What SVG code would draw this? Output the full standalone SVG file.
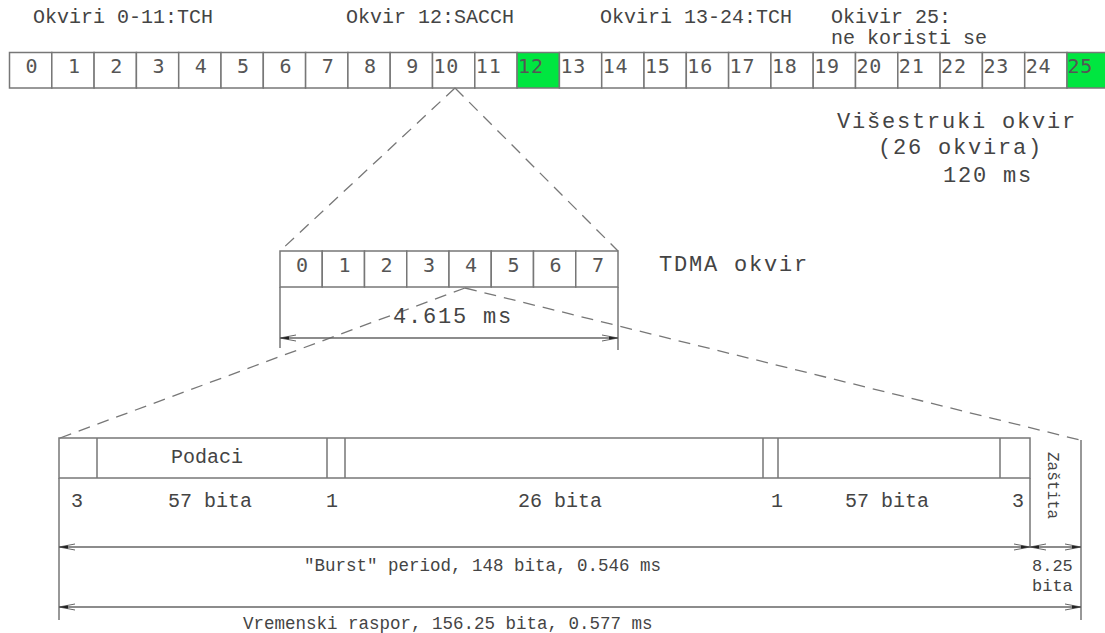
<svg xmlns="http://www.w3.org/2000/svg" width="1105" height="633" viewBox="0 0 1105 633">
<defs>
<style>
.cell{fill:#fff;stroke:#777;stroke-width:1.5}
.green{fill:#00e640}
.dig{font-family:"DejaVu Sans Mono",monospace;font-size:20px;fill:#555}
.two{letter-spacing:0.8px}
.mid{text-anchor:middle}
.lbl{font-family:"Liberation Mono","DejaVu Sans Mono",monospace;fill:#444}
.big{font-size:22px;letter-spacing:1.8px}
.ln{stroke:#777;stroke-width:1.5;fill:none}
.dash{stroke:#777;stroke-width:1.3;stroke-dasharray:12 8;fill:none}
.arr{stroke:#666;stroke-width:1.5;fill:none;marker-start:url(#ah);marker-end:url(#ah)}
</style>
<marker id="ah" viewBox="0 0 16 8" refX="16" refY="4" markerWidth="16" markerHeight="8" markerUnits="userSpaceOnUse" orient="auto-start-reverse">
<path d="M0,1 L16,4 L0,7" fill="none" stroke="#666" stroke-width="1"/>
<path d="M7,2.6 L16,4 L7,5.4 Z" fill="#222"/>
</marker>
</defs>
<rect width="1105" height="633" fill="#fff"/>

<g id="labels-top" class="lbl" font-size="20">
<text x="33" y="23">Okviri 0-11:TCH</text>
<text x="346" y="23">Okvir 12:SACCH</text>
<text x="600" y="23">Okviri 13-24:TCH</text>
<text x="831" y="23">Okivir 25:</text>
<text x="831" y="44">ne koristi se</text>
</g>

<g id="multiframe">
<g id="mf-0"><rect class="cell" x="9.5" y="52.5" width="42.3" height="35.5"/><text class="dig mid" x="31.6" y="73">0</text></g>
<g id="mf-1"><rect class="cell" x="51.8" y="52.5" width="42.3" height="35.5"/><text class="dig mid" x="73.9" y="73">1</text></g>
<g id="mf-2"><rect class="cell" x="94.1" y="52.5" width="42.3" height="35.5"/><text class="dig mid" x="116.2" y="73">2</text></g>
<g id="mf-3"><rect class="cell" x="136.4" y="52.5" width="42.3" height="35.5"/><text class="dig mid" x="158.5" y="73">3</text></g>
<g id="mf-4"><rect class="cell" x="178.7" y="52.5" width="42.3" height="35.5"/><text class="dig mid" x="200.8" y="73">4</text></g>
<g id="mf-5"><rect class="cell" x="221" y="52.5" width="42.3" height="35.5"/><text class="dig mid" x="243.1" y="73">5</text></g>
<g id="mf-6"><rect class="cell" x="263.3" y="52.5" width="42.3" height="35.5"/><text class="dig mid" x="285.4" y="73">6</text></g>
<g id="mf-7"><rect class="cell" x="305.6" y="52.5" width="42.3" height="35.5"/><text class="dig mid" x="327.7" y="73">7</text></g>
<g id="mf-8"><rect class="cell" x="347.9" y="52.5" width="42.3" height="35.5"/><text class="dig mid" x="370" y="73">8</text></g>
<g id="mf-9"><rect class="cell" x="390.2" y="52.5" width="42.3" height="35.5"/><text class="dig mid" x="412.3" y="73">9</text></g>
<g id="mf-10"><rect class="cell" x="432.5" y="52.5" width="42.3" height="35.5"/><text class="dig two" x="433.5" y="73">10</text></g>
<g id="mf-11"><rect class="cell" x="474.8" y="52.5" width="42.3" height="35.5"/><text class="dig two" x="475.8" y="73">11</text></g>
<g id="mf-12"><rect class="cell green" x="517.1" y="52.5" width="42.3" height="35.5"/><text class="dig two" x="518.1" y="73">12</text></g>
<g id="mf-13"><rect class="cell" x="559.4" y="52.5" width="42.3" height="35.5"/><text class="dig two" x="560.4" y="73">13</text></g>
<g id="mf-14"><rect class="cell" x="601.7" y="52.5" width="42.3" height="35.5"/><text class="dig two" x="602.7" y="73">14</text></g>
<g id="mf-15"><rect class="cell" x="644" y="52.5" width="42.3" height="35.5"/><text class="dig two" x="645" y="73">15</text></g>
<g id="mf-16"><rect class="cell" x="686.3" y="52.5" width="42.3" height="35.5"/><text class="dig two" x="687.3" y="73">16</text></g>
<g id="mf-17"><rect class="cell" x="728.6" y="52.5" width="42.3" height="35.5"/><text class="dig two" x="729.6" y="73">17</text></g>
<g id="mf-18"><rect class="cell" x="770.9" y="52.5" width="42.3" height="35.5"/><text class="dig two" x="771.9" y="73">18</text></g>
<g id="mf-19"><rect class="cell" x="813.2" y="52.5" width="42.3" height="35.5"/><text class="dig two" x="814.2" y="73">19</text></g>
<g id="mf-20"><rect class="cell" x="855.5" y="52.5" width="42.3" height="35.5"/><text class="dig two" x="856.5" y="73">20</text></g>
<g id="mf-21"><rect class="cell" x="897.8" y="52.5" width="42.3" height="35.5"/><text class="dig two" x="898.8" y="73">21</text></g>
<g id="mf-22"><rect class="cell" x="940.1" y="52.5" width="42.3" height="35.5"/><text class="dig two" x="941.1" y="73">22</text></g>
<g id="mf-23"><rect class="cell" x="982.4" y="52.5" width="42.3" height="35.5"/><text class="dig two" x="983.4" y="73">23</text></g>
<g id="mf-24"><rect class="cell" x="1024.7" y="52.5" width="42.3" height="35.5"/><text class="dig two" x="1025.7" y="73">24</text></g>
<g id="mf-25"><rect class="cell green" x="1067" y="52.5" width="42.3" height="35.5"/><text class="dig two" x="1067.5" y="73">25</text></g>
</g>

<g id="label-multiframe" class="lbl big">
<text x="837" y="128">Višestruki okvir</text>
<text x="878" y="154">(26 okvira)</text>
<text x="943" y="182">120 ms</text>
</g>

<g id="tdma">
<g id="ts-0"><rect class="cell" x="280" y="251" width="42.25" height="36"/><text class="dig mid" x="302.1" y="272">0</text></g>
<g id="ts-1"><rect class="cell" x="322.25" y="251" width="42.25" height="36"/><text class="dig mid" x="344.4" y="272">1</text></g>
<g id="ts-2"><rect class="cell" x="364.5" y="251" width="42.25" height="36"/><text class="dig mid" x="386.6" y="272">2</text></g>
<g id="ts-3"><rect class="cell" x="406.75" y="251" width="42.25" height="36"/><text class="dig mid" x="428.9" y="272">3</text></g>
<g id="ts-4"><rect class="cell" x="449" y="251" width="42.25" height="36"/><text class="dig mid" x="471.1" y="272">4</text></g>
<g id="ts-5"><rect class="cell" x="491.25" y="251" width="42.25" height="36"/><text class="dig mid" x="513.4" y="272">5</text></g>
<g id="ts-6"><rect class="cell" x="533.5" y="251" width="42.25" height="36"/><text class="dig mid" x="555.6" y="272">6</text></g>
<g id="ts-7"><rect class="cell" x="575.75" y="251" width="42.25" height="36"/><text class="dig mid" x="597.9" y="272">7</text></g>
<text class="lbl big" x="659" y="271">TDMA okvir</text>
</g>

<g id="burst">
<rect class="ln" x="59" y="438" width="971" height="40"/>
<path class="ln" d="M97,438V478 M327,438V478 M345,438V478 M763,438V478 M778,438V478 M1000,438V478 M59,478V620 M1030,478V547 M1081,440V620"/>
<g class="lbl" font-size="20">
<text x="171" y="463">Podaci</text>
<text x="71" y="507">3</text>
<text x="168" y="507">57 bita</text>
<text x="326" y="507">1</text>
<text x="518" y="507">26 bita</text>
<text x="771" y="507">1</text>
<text x="845" y="507">57 bita</text>
<text x="1012" y="507">3</text>
</g>
<text class="lbl" font-size="16" transform="translate(1048,452) rotate(90)">Zaštita</text>
<g class="lbl" font-size="17.5">
<text x="304" y="571">"Burst" period, 148 bita, 0.546 ms</text>
<text x="243" y="629">Vremenski raspor, 156.25 bita, 0.577 ms</text>
<text x="1032" y="571" font-size="17">8.25</text>
<text x="1032" y="591" font-size="17">bita</text>
</g>
</g>

<g id="connectors">
<path class="dash" d="M455,88 L280,251 M455,88 L618,251"/>
<path class="dash" d="M465,288 L60,438 M465,288 L1080,440"/>
<path class="ln" d="M280,287V348 M618,287V350"/>
<text class="lbl big" x="393" y="323">4.615 ms</text>
<line class="arr" x1="280" y1="338" x2="618" y2="338"/>
<line class="arr" x1="59" y1="547" x2="1030" y2="547"/>
<line class="arr" x1="1030" y1="547" x2="1081" y2="547"/>
<line class="arr" x1="59" y1="607" x2="1081" y2="607"/>
</g>
</svg>
